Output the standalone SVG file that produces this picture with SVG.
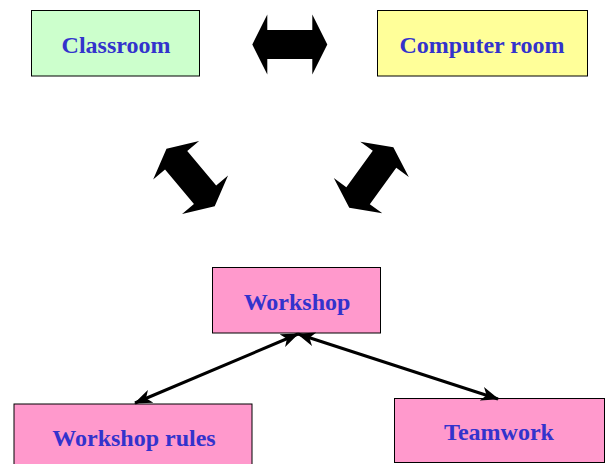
<svg xmlns="http://www.w3.org/2000/svg" width="605" height="464" viewBox="0 0 605 464">
<style>
.box{stroke:#000;stroke-width:1}
.lbl{font-family:"Liberation Serif","Times New Roman",serif;font-weight:bold;font-size:24px;fill:#3333cc;text-anchor:middle}
.conn{stroke:#000;stroke-width:3;fill:none}
</style>
<defs>
<polygon id="bigArrow" points="-37.5,0 -22.5,-30 -22.5,-14.5 22.5,-14.5 22.5,-30 37.5,0 22.5,30 22.5,14.5 -22.5,14.5 -22.5,30" fill="#000"/>
<marker id="ah" viewBox="0 0 18 14" refX="17" refY="7" markerWidth="18" markerHeight="14" markerUnits="userSpaceOnUse" orient="auto-start-reverse">
<path d="M0,0 L18,7 L0,14 L5,7 Z" fill="#000"/>
</marker>
</defs>
<rect width="605" height="464" fill="#fff"/>
<g id="bigArrows">
<use href="#bigArrow" transform="translate(289.8,44.5)"/>
<use href="#bigArrow" transform="translate(190.6,177.5) rotate(50)"/>
<use href="#bigArrow" transform="translate(371.3,177.5) rotate(-54)"/>
</g>
<g id="classroom">
<rect class="box" x="31.5" y="10.5" width="168" height="65.5" fill="#ccffcc"/>
<text class="lbl" x="116" y="53">Classroom</text>
</g>
<g id="computer-room">
<rect class="box" x="377.5" y="10.5" width="210" height="65.5" fill="#ffff99"/>
<text class="lbl" x="482" y="53">Computer room</text>
</g>
<g id="workshop">
<rect class="box" x="212.5" y="267.5" width="168" height="65.5" fill="#ff99cc"/>
<text class="lbl" x="297" y="310">Workshop</text>
</g>
<g id="workshop-rules">
<rect class="box" x="14" y="404" width="238" height="70" fill="#ff99cc"/>
<text class="lbl" x="134" y="446">Workshop rules</text>
</g>
<g id="teamwork">
<rect class="box" x="394.5" y="398.5" width="210" height="64" fill="#ff99cc"/>
<text class="lbl" x="499" y="440">Teamwork</text>
</g>
<g id="connectors">
<line class="conn" x1="298" y1="334" x2="135" y2="403" marker-start="url(#ah)" marker-end="url(#ah)"/>
<line class="conn" x1="298" y1="334" x2="498" y2="399" marker-start="url(#ah)" marker-end="url(#ah)"/>
</g>
</svg>
